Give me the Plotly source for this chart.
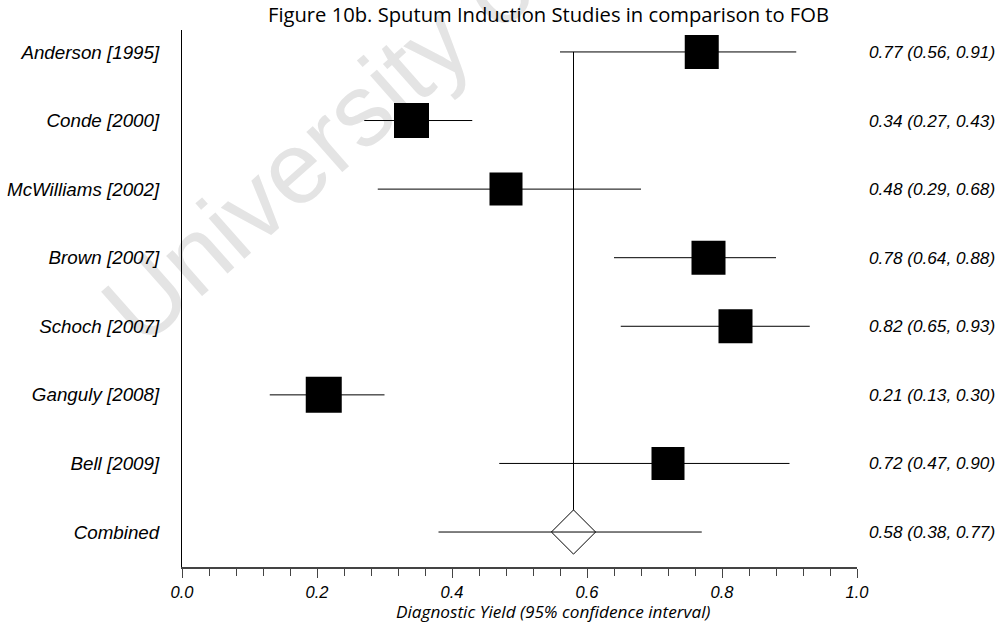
import plotly.graph_objects as go

# ---- data -------------------------------------------------------------
studies = [
    "Anderson [1995]",
    "Conde [2000]",
    "McWilliams [2002]",
    "Brown [2007]",
    "Schoch [2007]",
    "Ganguly [2008]",
    "Bell [2009]",
]
estimate = [0.77, 0.34, 0.48, 0.78, 0.82, 0.21, 0.72]
ci_low = [0.56, 0.27, 0.29, 0.64, 0.65, 0.13, 0.47]
ci_high = [0.91, 0.43, 0.68, 0.88, 0.93, 0.30, 0.90]

pooled_label = "Combined"
pooled_est = 0.58
pooled_low = 0.38
pooled_high = 0.77

x_ticks = [0.0, 0.2, 0.4, 0.6, 0.8, 1.0]

# ---- styling ----------------------------------------------------------
W, H = 1008, 623
M = dict(l=182, r=151, t=30, b=56)
Y_RANGE = [0.49, 8.32]
box_px = [34, 35, 33, 34, 34, 36, 33]   # study weight boxes
diamond_px = 34
label_font = "Liberation Sans, Arial, sans-serif"
heading_font = "Open Sans, sans-serif"

n = len(studies)
rows = list(range(n + 1, 1, -1))        # top study on top
pooled_row = 1
plot_h = H - M["t"] - M["b"]
plot_w = W - M["l"] - M["r"]
px_per_row = plot_h / (Y_RANGE[1] - Y_RANGE[0])

fig = go.Figure()

# confidence-interval whiskers
wx, wy = [], []
for r, lo, hi in zip(rows + [pooled_row], ci_low + [pooled_low], ci_high + [pooled_high]):
    wx += [lo, hi, None]
    wy += [r, r, None]
fig.add_trace(go.Scatter(x=wx, y=wy, mode="lines",
                         line=dict(color="black", width=1),
                         hoverinfo="skip", showlegend=False))

# vertical line at the pooled estimate, from the first study to the diamond
diamond_top = pooled_row + 0.65 * diamond_px / px_per_row
fig.add_trace(go.Scatter(x=[pooled_est, pooled_est], y=[rows[0], diamond_top],
                         mode="lines", line=dict(color="black", width=1),
                         hoverinfo="skip", showlegend=False))

# study point estimates
fig.add_trace(go.Scatter(x=estimate, y=rows, mode="markers",
                         marker=dict(symbol="square", size=box_px, color="black",
                                     opacity=1, line=dict(width=0)),
                         hoverinfo="skip", showlegend=False))

# pooled estimate
fig.add_trace(go.Scatter(x=[pooled_est], y=[pooled_row], mode="markers",
                         marker=dict(symbol="diamond-open", size=diamond_px, color="black",
                                     opacity=1, line=dict(width=1, color="black")),
                         hoverinfo="skip", showlegend=False))

# estimate (CI) text on the right
for r, e, lo, hi in zip(rows + [pooled_row], estimate + [pooled_est],
                        ci_low + [pooled_low], ci_high + [pooled_high]):
    fig.add_annotation(x=(867 - M["l"]) / plot_w, xref="paper", y=r, yref="y",
                       text=f"{e:.2f} ({lo:.2f}, {hi:.2f})",
                       xanchor="left", yanchor="middle", showarrow=False,
                       font=dict(family=label_font, size=17.2, color="black", style="italic"))

# title and axis caption
fig.add_annotation(x=(548 - M["l"]) / plot_w, xref="paper",
                   y=(H - M["b"] - 14) / plot_h, yref="paper",
                   xanchor="center", yanchor="middle",
                   text="Figure 10b. Sputum Induction Studies in comparison to FOB",
                   showarrow=False, font=dict(family=heading_font, size=20.2, color="black"))
fig.add_annotation(x=(553 - M["l"]) / plot_w, xref="paper",
                   y=(H - M["b"] - 611.5) / plot_h, yref="paper",
                   xanchor="center", yanchor="middle",
                   text="Diagnostic Yield (95% confidence interval)",
                   showarrow=False,
                   font=dict(family=heading_font, size=17.2, color="black", style="italic"))

# faint watermark behind the plot
fig.add_shape(type="line", xref="paper", yref="paper",
              x0=-0.045, y0=0.384, x1=0.625, y1=1.129,
              line=dict(width=0, color="rgba(0,0,0,0)"), layer="below",
              label=dict(text="University of Cape Town", textposition="start",
                         font=dict(family=label_font, size=102, color="#e4e4e4")))

fig.update_xaxes(range=[0, 1], tickvals=x_ticks, tickformat=".1f",
                 ticks="outside", ticklen=9, tickwidth=1, tickcolor="#444",
                 minor=dict(dtick=0.04, tick0=0, ticks="outside", ticklen=7,
                            tickwidth=1, tickcolor="#444"),
                 showline=True, linecolor="#444", linewidth=1.5,
                 showgrid=False, zeroline=False, automargin=False,
                 tickfont=dict(family=label_font, size=16.5, color="black", style="italic"))

fig.update_yaxes(range=Y_RANGE, tickvals=rows + [pooled_row],
                 ticktext=studies + [pooled_label],
                 ticks="", ticklabelstandoff=18, automargin=False,
                 showline=True, linecolor="black", linewidth=1,
                 showgrid=False, zeroline=False,
                 tickfont=dict(family=label_font, size=18.8, color="black", style="italic"))

fig.update_layout(width=W, height=H, margin=M,
                  paper_bgcolor="white", plot_bgcolor="white",
                  showlegend=False, hovermode=False)

fig.write_html("out.html")
